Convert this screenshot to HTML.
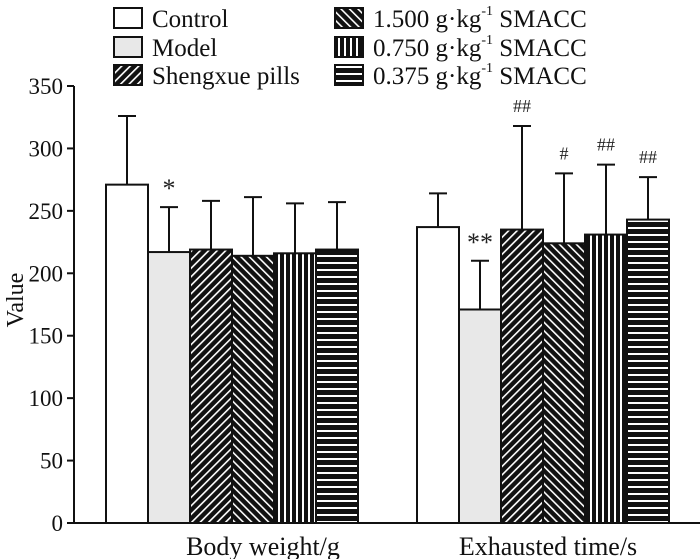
<!DOCTYPE html>
<html><head><meta charset="utf-8"><style>
body{margin:0;background:#fff}
svg{display:block;font-family:"Liberation Serif",serif}
</style></head><body>
<svg id="chart" width="700" height="559" viewBox="0 0 700 559">
<defs>
<pattern id="p-fwd" patternUnits="userSpaceOnUse" width="6" height="6" patternTransform="rotate(45)"><rect width="6" height="6" fill="#111"/><rect x="0" y="0" width="1.6" height="6" fill="#fff"/></pattern>
<pattern id="p-back" patternUnits="userSpaceOnUse" width="6" height="6" patternTransform="rotate(-45)"><rect width="6" height="6" fill="#111"/><rect x="0" y="0" width="1.6" height="6" fill="#fff"/></pattern>
<pattern id="p-vert" patternUnits="userSpaceOnUse" width="6" height="6"><rect width="6" height="6" fill="#111"/><rect x="2" y="0" width="2" height="6" fill="#fff"/></pattern>
<pattern id="p-horz" patternUnits="userSpaceOnUse" width="6" height="7"><rect width="6" height="7" fill="#111"/><rect x="0" y="3" width="6" height="2" fill="#fff"/></pattern>
</defs>
<g id="axes"></g><g id="bars"></g><g id="legend"></g>
</svg>
<script>
const groups = ["Body weight/g", "Exhausted time/s"];
const series = ["Control", "Model", "Shengxue pills", "1.500 g·kg-1 SMACC", "0.750 g·kg-1 SMACC", "0.375 g·kg-1 SMACC"];
const bodyWeight = [271, 217, 219, 214, 216, 219];
const bodyWeightErr = [326, 253, 258, 261, 256, 257];
const exhausted = [237, 171, 235, 224, 231, 243];
const exhaustedErr = [264, 210, 318, 280, 287, 277];
const bodyMarks = ["", "*", "", "", "", ""];
const exhaustedMarks = ["", "**", "##", "#", "##", "##"];
const yTicks = [0, 50, 100, 150, 200, 250, 300, 350];

const NS = "http://www.w3.org/2000/svg";
const fills = ["#fff", "#e8e8e8", "url(#p-fwd)", "url(#p-back)", "url(#p-vert)", "url(#p-horz)"];
const y0 = 523, yTop = 86, yMax = 350, axisX = 74;
function yScale(v){ return y0 - (v / yMax) * (y0 - yTop); }
const groupStart = [106, 417], barW = 42;
function xScale(g, i){ return groupStart[g] + i * barW; }
function mk(tag, attrs, parent){ const e = document.createElementNS(NS, tag); for (const k in attrs) e.setAttribute(k, attrs[k]); parent.appendChild(e); return e; }
const axes = document.getElementById("axes"), bars = document.getElementById("bars"), legend = document.getElementById("legend");

let l = mk("line", {x1: axisX, y1: yTop, x2: axisX, y2: y0, stroke: "#111", "stroke-width": 2}, axes);


l = mk("line", {x1: axisX - 1, y1: y0, x2: 700, y2: y0, stroke: "#111", "stroke-width": 2}, axes);


yTicks.forEach(t => {
  const tk = mk("line", {x1: axisX - 7, y1: yScale(t), x2: axisX, y2: yScale(t), stroke: "#111", "stroke-width": 2}, axes);
  
  
  const tx = mk("text", {x: axisX - 11, y: yScale(t) + 8, "text-anchor": "end", "font-size": 23, fill: "#111"}, axes);
  tx.textContent = t;
  
  
});
let yt = mk("text", {x: 0, y: 0, transform: "translate(23,300) rotate(-90)", "text-anchor": "middle", "font-size": 24, fill: "#111"}, axes);
yt.textContent = "Value";


const groupLabelX = [263, 548];
groups.forEach((g, gi) => {
  const tx = mk("text", {x: groupLabelX[gi], y: 555, "text-anchor": "middle", "font-size": 26, fill: "#111"}, axes);
  tx.textContent = g;
  
  
});

const vals = [bodyWeight, exhausted], errs = [bodyWeightErr, exhaustedErr], marks = [bodyMarks, exhaustedMarks];
vals.forEach((arr, gi) => {
  arr.forEach((v, i) => {
    const x = xScale(gi, i), cx = x + barW / 2, eTop = yScale(errs[gi][i]);
    const el = mk("line", {x1: cx, y1: yScale(v), x2: cx, y2: eTop, stroke: "#111", "stroke-width": 2}, bars);
    
    
    const cap = mk("line", {x1: cx - 9, y1: eTop, x2: cx + 9, y2: eTop, stroke: "#111", "stroke-width": 2}, bars);
    
    
    const r = mk("rect", {x: x, y: yScale(v), width: barW, height: y0 - yScale(v), fill: fills[i], stroke: "#111", "stroke-width": 2}, bars);
    
    
    const m = marks[gi][i];
    if (m) {
      const isStar = m.indexOf("*") >= 0;
      const mt = mk("text", {x: cx, y: isStar ? eTop - 10 : eTop - 14, "text-anchor": "middle", "font-size": isStar ? 26 : 18, fill: "#222"}, bars);
      mt.textContent = m;
      
      
    }
  });
});

const legPos = [[114,18],[114,47],[114,75],[335,18],[335,47],[335,75]];
const legLabels = [["Control"],["Model"],["Shengxue pills"],["1.500 g·kg","-1"," SMACC"],["0.750 g·kg","-1"," SMACC"],["0.375 g·kg","-1"," SMACC"]];
series.forEach((s, i) => {
  const [lx, ly] = legPos[i];
  const g = mk("g", {}, legend);
  
  
  const r = mk("rect", {x: lx, y: ly - 10, width: 28, height: 20, fill: fills[i], stroke: "#111", "stroke-width": 2}, g);
  
  
  const t = mk("text", {x: lx + 38, y: ly + 9, "font-size": 25, fill: "#111"}, g);
  
  
  const parts = legLabels[i];
  const a = mk("tspan", {}, t); a.textContent = parts[0];
  if (parts.length > 1) {
    const b = mk("tspan", {dy: -12, "font-size": 14}, t); b.textContent = parts[1];
    const c = mk("tspan", {dy: 12}, t); c.textContent = parts[2];
  }
});
</script>
</body></html>
